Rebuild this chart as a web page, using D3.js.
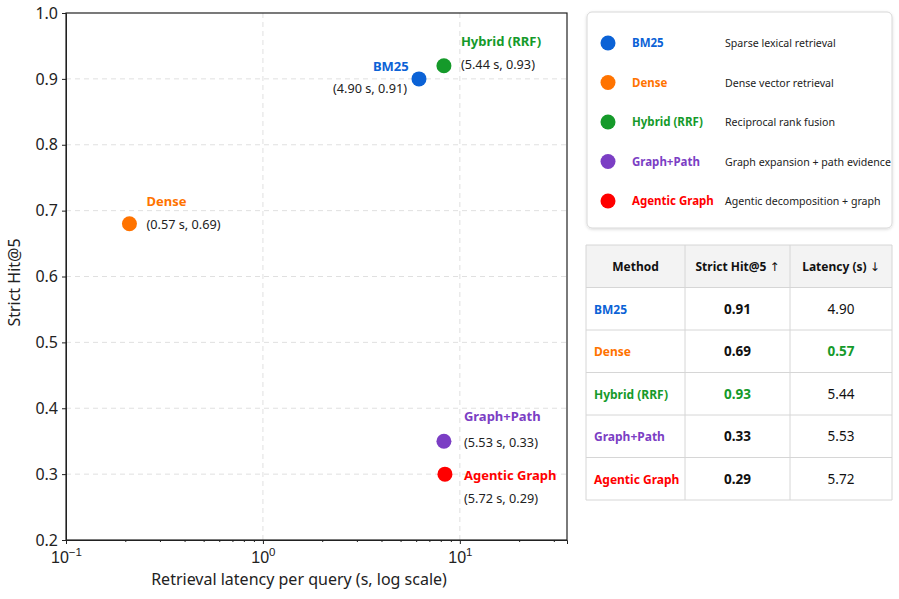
<!DOCTYPE html>
<html><head><meta charset="utf-8">
<script src="https://cdn.jsdelivr.net/npm/d3@7"></script>
<style>
body{margin:0;background:#fff;font-family:"Noto Sans","Open Sans",sans-serif;}
</style></head>
<body><svg id="c" width="899" height="599"></svg>
<script>
const methods = ["BM25","Dense","Hybrid (RRF)","Graph+Path","Agentic Graph"];
const colors = ["#0b62d6","#ff7300","#159a2a","#7b3ec4","#ff0000"];
const descriptions = ["Sparse lexical retrieval","Dense vector retrieval","Reciprocal rank fusion","Graph expansion + path evidence","Agentic decomposition + graph"];
// plotted positions
const plotLatency = [6.2, 0.21, 8.3, 8.3, 8.4];
const plotHit = [0.90, 0.68, 0.92, 0.35, 0.30];
// reported values (annotations / table)
const hitLabels = ["0.91","0.69","0.93","0.33","0.29"];
const latLabels = ["4.90","0.57","5.44","5.53","5.72"];
const yTicks = [0.2,0.3,0.4,0.5,0.6,0.7,0.8,0.9,1.0];
const xTicks = [0.1,1,10];
const xTickLabels = ["-1","0","1"];
const tableHeaders = ["Method","Strict Hit@5 ","Latency (s) "];
const tableArrows = ["","\u2191","\u2193"];

const svg = d3.select("#c");
const L=66,R=567,T=13,B=540;
const x = d3.scaleLog().domain([0.1,35]).range([L,R]);
const y = d3.scaleLinear().domain([0.2,1.0]).range([B,T]);

// grid
svg.append("g").selectAll("line").data(xTicks.slice(1)).join("line")
  .attr("x1",d=>x(d)).attr("x2",d=>x(d)).attr("y1",T).attr("y2",B)
  .attr("stroke","#dcdcdc").attr("stroke-dasharray","5,4").attr("stroke-width",0.9);
svg.append("g").selectAll("line").data(yTicks.slice(1,-1)).join("line")
  .attr("x1",L).attr("x2",R).attr("y1",d=>y(d)).attr("y2",d=>y(d))
  .attr("stroke","#dcdcdc").attr("stroke-dasharray","5,4").attr("stroke-width",0.9);

// axes
const yAxis = d3.axisLeft(y).tickValues(yTicks).tickFormat(d3.format(".1f")).tickSize(4).tickPadding(4);
const gy = svg.append("g").attr("transform",`translate(${L},0)`).call(yAxis);
gy.selectAll("text").attr("font-size",16).attr("fill","#222").attr("font-family","Noto Sans");
const minor = [];
for (let e=-1;e<=1;e++) for (let k=2;k<=9;k++){const v=k*Math.pow(10,e); if(v<35) minor.push(v);}
const xMinor = d3.axisBottom(x).tickValues(minor).tickFormat("").tickSize(2);
svg.append("g").attr("transform",`translate(0,${B})`).call(xMinor).call(g=>g.select(".domain").remove());
const xAxis = d3.axisBottom(x).tickValues(xTicks).tickFormat("").tickSize(4);
const gx = svg.append("g").attr("transform",`translate(0,${B})`).call(xAxis);
gx.selectAll(".tick").append("text").attr("y",23).attr("text-anchor","middle")
  .attr("fill","#222").attr("font-size",16)
  .each(function(d,i){
    const t=d3.select(this);
    t.append("tspan").text("10");
    t.append("tspan").attr("dy",-7).attr("font-size",11.5).text(xTickLabels[i].replace("-","\u2212"));
  });
svg.selectAll(".domain").attr("stroke","#222");
svg.selectAll(".tick line").attr("stroke","#222");
// frame
svg.append("rect").attr("x",L).attr("y",T).attr("width",R-L).attr("height",B-T)
  .attr("fill","none").attr("stroke","#222").attr("stroke-width",1.2);

svg.append("text").attr("x",299).attr("y",585).attr("text-anchor","middle")
  .attr("font-size",16).attr("fill","#222").text("Retrieval latency per query (s, log scale)");
svg.append("text").attr("transform",`translate(20,${(T+B)/2+6}) rotate(-90)`).attr("text-anchor","middle")
  .attr("font-size",16).attr("fill","#222").text("Strict Hit@5");

// points
const data = methods.map((m,i)=>({m,c:colors[i],x:plotLatency[i],y:plotHit[i],h:hitLabels[i],l:latLabels[i]}));
svg.append("g").selectAll("circle").data(data).join("circle")
  .attr("cx",d=>x(d.x)).attr("cy",d=>y(d.y)).attr("r",7.5).attr("fill",d=>d.c);

// annotations: [dx name, dy name, dx coord, dy coord]
const ann = [
  [-46,-12,-86,10],
  [17,-22,17,1],
  [17,-24,17,-1],
  [20,-25,20,1],
  [19,1,19,24]
];
data.forEach((d,i)=>{
  const px=x(d.x), py=y(d.y), a=ann[i];
  svg.append("text").attr("x",px+a[0]).attr("y",py+a[1]+4.5).attr("font-size",13).attr("font-weight","bold")
    .attr("fill",d.c).text(d.m);
  svg.append("text").attr("x",px+a[2]).attr("y",py+a[3]+4.5).attr("font-size",12.7).attr("fill","#222")
    .text(`(${d.l} s, ${d.h})`);
});

// legend box
const defs = svg.append("defs");
const f = defs.append("filter").attr("id","sh").attr("x","-10%").attr("y","-10%").attr("width","120%").attr("height","120%");
f.append("feDropShadow").attr("dx",0).attr("dy",1).attr("stdDeviation",1.5).attr("flood-color","#000").attr("flood-opacity",0.15);
svg.append("rect").attr("x",587).attr("y",12).attr("width",305).attr("height",216).attr("rx",5)
  .attr("fill","#fff").attr("stroke","#d8d8d8").attr("filter","url(#sh)");
const ly = d3.scalePoint().domain(methods).range([43,201]);
const lg = svg.append("g").selectAll("g").data(data).join("g").attr("transform",d=>`translate(0,${ly(d.m)})`);
lg.append("circle").attr("cx",608).attr("r",7.5).attr("fill",d=>d.c);
lg.append("text").attr("x",632).attr("y",4).attr("font-size",11.5).attr("font-weight","bold").attr("fill",d=>d.c).text(d=>d.m);
lg.append("text").attr("x",725).attr("y",4).attr("font-size",10.6).attr("fill","#222").text((d,i)=>descriptions[i]);

// table
const colX = [586,685,790,892];
const rowY = d3.scaleBand().domain(["h",...methods]).range([245,500]);
const tb = svg.append("g");
tb.append("rect").attr("x",colX[0]).attr("y",245).attr("width",colX[3]-colX[0]).attr("height",rowY.bandwidth())
  .attr("fill","#f3f3f3");
tableHeaders.forEach((h,j)=>{
  const t = tb.append("text").attr("x",(colX[j]+colX[j+1])/2).attr("y",rowY("h")+rowY.bandwidth()/2+4.5)
    .attr("text-anchor","middle").attr("font-size",12).attr("font-weight","bold").attr("fill","#111");
  t.append("tspan").text(h);
  if (tableArrows[j]) t.append("tspan").attr("font-family","DejaVu Sans").attr("font-weight","normal").attr("fill","#111").text(tableArrows[j]);
});
const bestHit = d3.max(hitLabels.map(Number)), bestLat = d3.min(latLabels.map(Number));
data.forEach((d,i)=>{
  const cy = rowY(d.m)+rowY.bandwidth()/2+5;
  tb.append("text").attr("x",594).attr("y",cy).attr("font-size",12).attr("font-weight","bold").attr("fill",d.c).text(d.m);
  tb.append("text").attr("x",(colX[1]+colX[2])/2).attr("y",cy).attr("text-anchor","middle").attr("font-size",13.5)
    .attr("font-weight","bold").attr("fill",+d.h===bestHit?"#159a2a":"#111").text(d.h);
  tb.append("text").attr("x",(colX[2]+colX[3])/2).attr("y",cy).attr("text-anchor","middle").attr("font-size",13.5)
    .attr("font-weight",+d.l===bestLat?"bold":"normal").attr("fill",+d.l===bestLat?"#159a2a":"#111").text(d.l);
});
[245,...methods.map(m=>rowY(m)),500].forEach(v=>{
  tb.append("line").attr("x1",colX[0]).attr("x2",colX[3]).attr("y1",v).attr("y2",v).attr("stroke","#d6d6d6");
});
colX.forEach(v=>{
  tb.append("line").attr("x1",v).attr("x2",v).attr("y1",245).attr("y2",500).attr("stroke","#d6d6d6");
});
</script></body></html>
